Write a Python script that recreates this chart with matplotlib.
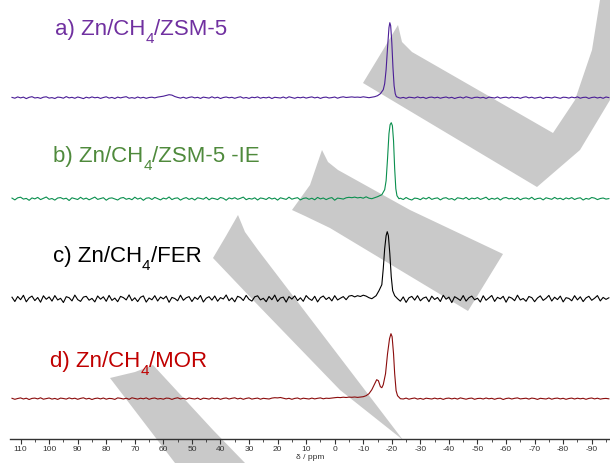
import matplotlib
matplotlib.use("Agg")
import matplotlib.pyplot as plt
from matplotlib.patches import Polygon
from matplotlib.ticker import MultipleLocator
import numpy as np

plt.rcParams['font.family'] = ['Liberation Sans', 'DejaVu Sans']
plt.rcParams['axes.unicode_minus'] = False

# chemical shift axis of the baseline samples (ppm)
ppm_grid = np.arange(113, -97, -1)

# sample labels: head, subscript, tail
label_heads = ["a) Zn/CH", "b) Zn/CH", "c) Zn/CH", "d) Zn/CH"]
label_subs = ["4", "4", "4", "4"]
label_tails = ["/ZSM-5", "/ZSM-5 -IE", "/FER", "/MOR"]

# baseline intensities (one per ppm_grid point)
a_noise = [
    0.3, -0.5, 0.8, -0.2, 0.6, -0.9, 0.4, 1.0, -0.3, 0.2, -0.7, 0.5, 0.9, -0.4, 0.1,
    -0.8, 0.6, 0.3, -0.5, 1.1, -0.2, 0.4, -0.6, 0.7, 0.0, -0.9, 0.5, -0.3, 0.8, -0.1,
    0.4, -0.7, 0.2, 0.9, -0.4, 0.3, -0.8, 0.6, -0.2, 0.5, 1.0, -0.5, 0.1, -0.6, 0.7,
    -0.3, 0.4, -0.6, 0.2, 0.5, -0.2, 0.6, 1.0, 1.5, 2.2, 3.0, 2.6, 1.2, 0.3, -0.4,
    0.5, -0.6, 0.3, 0.8, -0.2, 0.4, -0.7, 0.6, 0.1, -0.4, 0.9, -0.3, 0.5, -0.8, 0.2,
    0.7, -0.1, 0.4, -0.6, 0.3, 0.9, -0.4, 0.2, -0.7, 0.5, 0.0, 0.8, -0.5, 0.3, -0.2,
    0.6, -0.8, 0.4, 0.1, -0.3, 0.7, -0.5, 0.9, 0.2, -0.6, 0.4, -0.1, 0.6, -0.4, 0.3,
    0.8, -0.2, 0.5, -0.7, 0.3, 0.6, -0.3, 0.1, 0.7, -0.5, 0.4, 0.9, 0.2, 0.5, 0.8,
    0.4, 0.6, 0.3, 0.9, 0.5, 0, 0, 0, 0, 0, 0, 0, 0, 0, 0,
    0, -0.4, 0.3, -0.6, 0.5, 0.2, -0.3, 0.8, -0.1, 0.4, -0.7, 0.3, 0.6, -0.2, 0.5,
    -0.5, 0.2, 0.7, -0.3, 0.4, -0.8, 0.1, 0.6, -0.4, 0.9, 0.2, -0.6, 0.3, 0.5, -0.2,
    0.4, -0.7, 0.6, 0.1, -0.3, 0.8, -0.5, 0.2, 0.5, -0.4, 0.7, -0.1, 0.3, -0.6, 0.4,
    0.9, -0.2, 0.5, -0.5, 0.1, 0.6, -0.8, 0.4, 0.2, -0.3, 0.7, 0.0, -0.6, 0.5, 0.3,
    -0.4, 0.6, -0.1, 0.8, -0.5, 0.3, 0.5, -0.7, 0.2, 0.6, -0.3, 0.4, -0.6, 0.7, 0.1,
]
b_noise = [
    0.6, -1.2, 0.9, 1.5, -0.4, 0.3, -1.6, 0.8, -0.2, 1.3, -0.9, 0.4, 1.7, -0.6, 0.2,
    -1.4, 0.7, 1.1, -0.3, 0.5, -1.8, 0.9, 0.1, -0.8, 1.4, -0.5, 0.6, -1.1, 0.3, 1.6,
    -0.7, 0.2, 1.0, -1.5, 0.4, 0.8, -0.2, -1.3, 0.6, 1.2, -0.6, 0.3, -1.0, 1.5, -0.4,
    0.7, -1.6, 0.5, 0.9, -0.8, 1.3, 0.1, -1.2, 0.6, -0.3, 1.7, -0.9, 0.4, 0.8, -1.4,
    0.2, 1.1, -0.7, 0.5, -1.3, 0.9, 0.3, -0.5, 1.4, -1.1, 0.6, 0.0, -0.9, 1.2, 0.4,
    -1.5, 0.8, -0.2, 1.0, -0.6, 0.4, 1.6, -1.0, 0.3, -0.4, 0.9, -1.3, 0.7, 0.2, -0.8,
    1.2, -0.3, 0.6, -1.4, 0.9, 0.1, -0.7, 1.5, -0.5, 0.4, 1.0, -1.2, 0.3, 0.8, -0.6,
    0.5, -1.1, 1.3, -0.2, 0.7, -0.9, 0.4, 1.1, -1.5, 0.6, 0.2, -0.4, 0.9, 1.4, 1.0,
    1.6, 0.8, 1.3, 0.5, 1.9, 0, 0, 0, 0, 0, 0, 0, 0, 0, 0,
    0, 0.5, -0.8, 1.2, -0.4, -1.3, 0.6, 0.2, -1.0, 0.9, -0.3, 1.4, -0.7, 0.3, 0.8,
    -1.2, 0.5, 1.0, -0.6, 0.2, -1.4, 0.9, 0.4, -0.3, 1.3, -0.9, 0.6, -0.1, 1.1, -0.7,
    0.3, 1.5, -1.0, 0.4, -0.5, 0.8, -1.3, 0.6, 1.2, -0.2, 0.5, -0.8, 1.0, -1.1, 0.3,
    0.7, -0.4, 1.4, -0.9, 0.2, 0.6, -1.2, 0.9, 0.1, -0.6, 1.3, -0.3, 0.5, -1.0, 0.8,
    -0.2, 1.1, -0.8, 0.4, 0.9, -1.3, 0.3, -0.5, 1.2, 0.6, -0.9, 0.2, 0.7, -0.4, 0.1,
]
c_noise = [
    1.5, -2.8, 2.2, -1.0, 3.4, -3.1, 0.8, 2.6, -1.9, 1.2, -3.5, 2.9, -0.6, 1.8, -2.4,
    3.1, -1.3, 0.4, -3.8, 2.0, 1.0, -2.2, 3.6, -0.9, -2.7, 1.6, 2.4, -1.5, 0.3, -3.2,
    2.7, -0.5, 1.9, -2.6, 3.3, -1.7, 0.6, -3.0, 2.3, 1.1, -1.2, 3.8, -2.0, 0.9, -2.9,
    1.4, 2.8, -3.4, 0.7, -1.1, 3.0, -2.3, 1.7, -0.2, 2.5, -3.6, 1.3, 0.2, -2.1, 3.5,
    -1.6, 0.9, 2.1, -2.8, 1.5, -0.7, 3.2, -3.3, 0.5, 2.0, -1.4, 2.7, -2.5, 1.1, -0.3,
    3.7, -2.0, 0.8, -3.1, 2.4, 1.2, -1.8, 3.3, -0.6, -2.4, 1.9, 2.9, -1.2, 0.4, -3.0,
    2.2, -1.0, 3.6, -2.7, 0.7, 1.6, -3.4, 2.1, -0.4, 2.8, -1.9, 0.9, -2.6, 3.1, 0.1,
    -1.7, 2.4, -3.2, 1.0, 2.7, -0.8, 1.4, -2.2, 3.0, -1.3, 0.5, 2.1, -1.0, 2.6, 3.2,
    1.8, 3.0, 2.2, 3.5, 2.6, 0, 0, 0, 0, 0, 0, 0, 0, 0, 0,
    0, -2.5, 1.8, -3.7, 0.9, 2.3, -1.4, 3.0, -2.1, 0.6, 1.7, -3.0, 2.5, -0.8, 1.2,
    -2.8, 3.4, -0.5, 1.6, -3.9, 2.0, 0.3, -1.8, 3.1, -2.4, 1.0, 2.6, -1.1, 0.5, -3.3,
    2.9, -1.6, 0.8, 3.2, -2.7, 1.4, -0.2, 2.4, -3.5, 1.8, 0.6, -2.0, 3.5, -1.3, 0.2,
    -2.6, 2.2, 1.1, -3.0, 0.7, 2.8, -1.7, 0.4, 3.3, -2.3, 1.5, -0.9, 2.6, -3.2, 1.0,
    0.3, -2.1, 3.0, -1.2, 1.9, -2.9, 0.8, 2.4, -1.6, 0.5, 3.1, -2.2, 1.3, -0.7, 0.9,
]
d_noise = [
    0.4, -0.6, 0.2, 0.8, -0.3, 0.5, -0.8, 0.3, 0.6, -0.2, 0.9, -0.5, 0.1, 0.7, -0.4,
    0.3, -0.7, 0.6, 0.2, -0.4, 0.8, -0.1, 0.5, -0.6, 0.3, 0.9, -0.3, 0.4, -0.8, 0.2,
    0.6, -0.2, 0.7, -0.5, 0.3, 0.1, -0.7, 0.8, 0.4, -0.3, 0.5, -0.6, 0.9, 0.2, -0.4,
    0.5, -0.1, 0.8, -0.6, 0.3, 0.7, -0.3, 0.2, -0.5, 0.6, 0.4, -0.7, 0.3, 0.9, -0.2,
    0.4, -0.5, 0.7, 0.1, -0.3, 0.6, -0.8, 0.5, 0.2, -0.4, 0.8, -0.1, 0.5, -0.6, 0.3,
    0.7, -0.3, 0.4, 0.9, -0.2, 0.5, -0.6, 0.3, 0.8, -0.4, 0.2, 0.6, -0.5, 0.4, 0.1,
    -0.3, 0.6, 1.0, 0.8, 1.2, 0.5, -0.2, 0.4, -0.6, 0.3, 0.7, -0.4, 0.5, 0.1, -0.3,
    0.6, -0.2, 0.4, 0.8, -0.1, 0.5, 0.3, 0.7, 1.0, 1.3, 1.1, 1.5, 1.2, 1.6, 1.4,
    1.7, 1.3, 1.6, 2.0, 0, 0, 0, 0, 0, 0, 0, 0, 0, 0, 0,
    0, 0.4, -0.3, 0.6, -0.5, 0.2, 0.7, -0.4, 0.3, -0.6, 0.5, 0.1, -0.3, 0.6, -0.2,
    0.4, -0.7, 0.3, 0.6, -0.2, 0.5, -0.4, 0.8, 0.1, -0.5, 0.3, 0.6, -0.6, 0.2, 0.4,
    -0.3, 0.7, -0.1, 0.4, -0.6, 0.3, 0.5, -0.8, 0.2, 0.6, -0.3, 0.4, 0.8, -0.2, 0.1,
    0.5, -0.4, 0.6, 0.2, -0.7, 0.4, 0.1, -0.3, 0.7, -0.5, 0.3, 0.6, -0.2, 0.4, -0.6,
    0.2, 0.6, -0.3, 0.5, -0.1, 0.4, -0.6, 0.3, 0.7, -0.2, 0.5, -0.4, 0.1, 0.3, -0.1,
]

# peak regions (ppm, intensity)
a_peak_ppm = [-12, -14, -15, -16, -17, -17.5, -18, -18.5, -19, -19.3, -19.6, -20, -20.4, -20.8, -21.2, -21.6, -22.5]
a_peak_int = [0, 1, 2, 4, 8, 14, 28, 50, 70, 75, 72, 55, 30, 12, 4, 1, 0]
b_peak_ppm = [-12, -13, -15, -16.5, -17.5, -18, -18.5, -19, -19.4, -19.8, -20.2, -20.6, -21, -21.4, -21.8, -22.5]
b_peak_int = [0.5, 0, 2, 4, 9, 18, 40, 65, 74, 76, 73, 58, 30, 10, 3, 0]
c_peak_ppm = [-12, -13, -14.5, -15.5, -16.5, -17, -17.5, -18, -18.4, -18.8, -19.3, -19.8, -20.3, -21, -22]
c_peak_int = [1.0, 0, 3, 8, 14, 30, 50, 63, 67, 63, 45, 22, 8, 3, 0]
d_peak_ppm = [-11, -12, -13, -14, -14.7, -15.3, -16, -16.5, -17, -17.8, -18.5, -19.2, -19.7, -20.1, -20.6, -21, -21.5, -22, -23]
d_peak_int = [3, 5, 9, 15, 19, 18, 12, 11, 14, 25, 45, 60, 65, 62, 45, 25, 8, 3, 0]

noises = [a_noise, b_noise, c_noise, d_noise]
peak_ppms = [a_peak_ppm, b_peak_ppm, c_peak_ppm, d_peak_ppm]
peak_ints = [a_peak_int, b_peak_int, c_peak_int, d_peak_int]

line_colors = ['#4a1d96', '#0a8f4e', '#000000', '#8b0c0c']
text_colors = ['#7030a0', '#4f8a3c', '#000000', '#c00000']
offsets = [344, 243, 143, 43]          # stacking offsets (axis units = px)
label_pos = [(55, 35), (53, 162), (53, 262), (50, 367)]  # figure px


def build_trace(noise, pk_ppm, pk_int):
  noise = np.array(noise, dtype=float)
  pk_ppm = np.array(pk_ppm, dtype=float)
  keep = (ppm_grid > pk_ppm.max()) | (ppm_grid < pk_ppm.min())
  x = np.concatenate([ppm_grid[keep], pk_ppm])
  y = np.concatenate([noise[keep], np.array(pk_int, dtype=float)])
  order = np.argsort(-x)
  return x[order], y[order]


W, H = 610, 463
fig = plt.figure(figsize=(W / 100, H / 100), dpi=100)
renderer = fig.canvas.get_renderer()

# grey watermark in the background (figure px coords)
marks = [
    [(363, 83), (380, 55), (398, 25), (402, 42), (412, 52), (553, 133), (575, 100),
     (592, 50), (600, 0), (610, 0), (610, 100), (580, 150), (537, 187)],
    [(292, 210), (310, 185), (322, 150), (328, 162), (338, 170), (410, 210), (503, 254),
     (468, 311), (330, 228), (305, 216)],
    [(213, 258), (226, 236), (238, 215), (245, 232), (258, 250), (403, 440), (340, 390),
     (253, 300)],
    [(110, 378), (135, 372), (153, 365), (213, 430), (245, 463), (175, 463)],
]
for pts in marks:
  fig.patches.append(Polygon([(x / W, 1 - y / H) for x, y in pts], closed=True,
                             transform=fig.transFigure, facecolor='#c9c9c9',
                             edgecolor='none', zorder=-1))

# axis line sits ~24 px above the bottom edge
ax = fig.add_axes([10 / W, 24 / H, 600 / W, 439 / H])
ax.patch.set_visible(False)

for i in range(4):
  x, y = build_trace(noises[i], peak_ppms[i], peak_ints[i])
  ax.plot(x, y + offsets[i], color=line_colors[i], lw=0.8)

  # label with a dropped subscript
  lx, ly = label_pos[i]
  t1 = fig.text(lx / W, 1 - ly / H, label_heads[i], color=text_colors[i],
                fontsize=16, ha='left', va='baseline')
  x1 = t1.get_window_extent(renderer).x1
  t2 = fig.text(x1 / W, 1 - (ly + 8) / H, label_subs[i], color=text_colors[i],
                fontsize=11, ha='left', va='baseline')
  x2 = t2.get_window_extent(renderer).x1
  fig.text(x2 / W, 1 - ly / H, label_tails[i], color=text_colors[i],
           fontsize=16, ha='left', va='baseline')

ax.set_xlim(113.7, -96.4)
ax.set_ylim(2.7, 441.7)
for s in ['top', 'left', 'right']:
  ax.spines[s].set_visible(False)
ax.spines['bottom'].set_color('#333333')
ax.spines['bottom'].set_linewidth(1.0)
ax.set_yticks([])
ax.xaxis.set_minor_locator(MultipleLocator(5))
ax.tick_params(axis='x', which='major', direction='out', length=3.5, width=0.8,
               colors='#333333', labelsize=6, pad=1.5)
ax.tick_params(axis='x', which='minor', direction='out', length=2, width=0.6,
               colors='#333333')
ax.set_xticks(np.arange(110, -91, -10))
ax.set_xticklabels([str(v) for v in range(110, -91, -10)])
ax.set_xlabel('δ / ppm', fontsize=6, color='#333333', labelpad=0.5)

fig.savefig('out.png', dpi=100)
